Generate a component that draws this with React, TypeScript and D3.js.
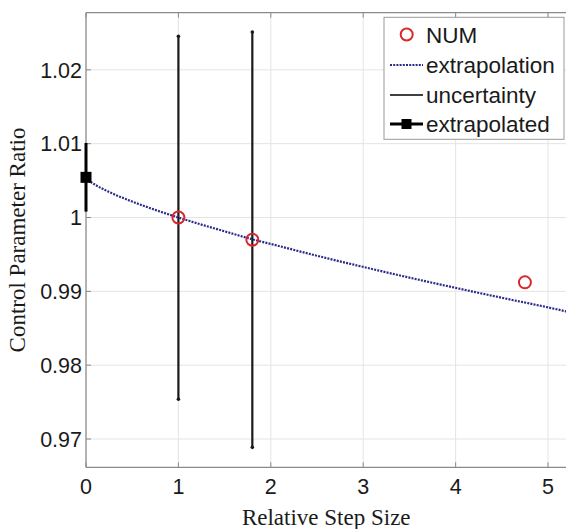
import React from "react";
import * as d3 from "d3";

const xTicks = [0, 1, 2, 3, 4, 5];
const yTicks = [0.97, 0.98, 0.99, 1.0, 1.01, 1.02];
const yTickLabels = ["0.97", "0.98", "0.99", "1", "1.01", "1.02"];

// NUM observations
const numX = [1, 1.8, 4.75];
const numY = [1.0, 0.99698, 0.99122];

// extrapolation curve
const curveX = [0, 0.02, 0.05, 0.1, 0.25, 0.5, 0.75, 1, 1.25, 1.5, 1.8, 2, 2.5, 3, 3.5, 4, 4.5, 5, 5.2];
const curveY = [1.00544, 1.00513, 1.00483, 1.00443, 1.00346, 1.00216, 1.00103, 1.0, 0.99904, 0.99813, 0.99705, 0.99642, 0.99482, 0.99331, 0.99186, 0.99047, 0.98913, 0.98783, 0.98728];

// uncertainty bars
const barX = [1, 1.8];
const barLow = [0.97538, 0.96887];
const barHigh = [1.02455, 1.02513];

// extrapolated value
const extrapX = 0;
const extrapY = 1.00544;
const extrapLow = 1.0008;
const extrapHigh = 1.0101;

const legendLabels = ["NUM", "extrapolation", "uncertainty", "extrapolated"];

export default function App() {
  const W = 566, H = 529;
  const x = d3.scaleLinear().domain([0, 5.2]).range([86, 566.5]);
  const y = d3.scaleLinear().domain([0.96617, 1.02774]).range([467.3, 12.7]);
  const [x0, x1] = x.range();
  const [yb, yt] = y.range();
  const line = d3
    .line<number>()
    .x((_, i) => x(curveX[i]))
    .y((d) => y(d))
    .curve(d3.curveMonotoneX);
  const tickFont = "'Liberation Sans', Arial, sans-serif";
  const serif = "'Liberation Serif', 'Times New Roman', serif";
  const gridColor = "#e4e4e4";
  const axisColor = "#8a8a8a";
  const blue = "#2a2a8a";
  const red = "#d8282c";
  const lx0 = 390, lx1 = 423, ltx = 426;
  const rows = [34.5, 65, 95, 124];
  return (
    <svg width={W} height={H} style={{ position: "absolute", left: 0, top: 0, background: "#fff" }}>
      {/* grid */}
      {xTicks.map((t) => (
        <line key={"gx" + t} x1={x(t)} x2={x(t)} y1={yb} y2={yt} stroke={gridColor} strokeWidth={1} />
      ))}
      {yTicks.map((t) => (
        <line key={"gy" + t} x1={x0} x2={x1} y1={y(t)} y2={y(t)} stroke={gridColor} strokeWidth={1} />
      ))}
      {/* axes box */}
      <line x1={x0} x2={x1} y1={yb} y2={yb} stroke={axisColor} strokeWidth={1.2} />
      <line x1={x0} x2={x1} y1={yt} y2={yt} stroke={axisColor} strokeWidth={1.2} />
      <line x1={x0} x2={x0} y1={yt} y2={yb} stroke={axisColor} strokeWidth={1.2} />
      {/* ticks */}
      {xTicks.map((t) => (
        <g key={"tx" + t}>
          <line x1={x(t)} x2={x(t)} y1={yb} y2={yb - 5} stroke={axisColor} />
          <line x1={x(t)} x2={x(t)} y1={yt} y2={yt + 5} stroke={axisColor} />
          <text x={x(t)} y={494} textAnchor="middle" fontFamily={tickFont} fontSize={21.5} fill="#1a1a1a">
            {t}
          </text>
        </g>
      ))}
      {yTicks.map((t, i) => (
        <g key={"ty" + t}>
          <line x1={x0} x2={x0 + 5} y1={y(t)} y2={y(t)} stroke={axisColor} />
          <text x={82} y={y(t)} dy="0.36em" textAnchor="end" fontFamily={tickFont} fontSize={21.5} fill="#1a1a1a">
            {yTickLabels[i]}
          </text>
        </g>
      ))}
      {/* uncertainty bars */}
      {barX.map((bx, i) => (
        <g key={"b" + i}>
          <line x1={x(bx)} x2={x(bx)} y1={y(barLow[i])} y2={y(barHigh[i])} stroke="#1a1a1a" strokeWidth={2.2} />
          <circle cx={x(bx)} cy={y(barLow[i])} r={1.8} fill="#1a1a1a" />
          <circle cx={x(bx)} cy={y(barHigh[i])} r={1.8} fill="#1a1a1a" />
        </g>
      ))}
      {/* extrapolation curve */}
      <path d={line(curveY) || ""} fill="none" stroke={blue} strokeWidth={2.2} strokeDasharray="2,1.2" />
      {/* extrapolated */}
      <line x1={x(extrapX)} x2={x(extrapX)} y1={y(extrapLow)} y2={y(extrapHigh)} stroke="#000" strokeWidth={3} />
      <rect x={x(extrapX) - 5.5} y={y(extrapY) - 5.5} width={11} height={11} fill="#000" />
      {/* NUM */}
      {numX.map((nx, i) => (
        <circle key={"n" + i} cx={x(nx)} cy={y(numY[i])} r={6} fill="none" stroke={red} strokeWidth={2} />
      ))}
      {/* legend */}
      <rect x={384} y={17.3} width={180} height={122} fill="#fff" stroke="#9a9a9a" strokeWidth={1} />
      <circle cx={406.7} cy={rows[0]} r={6} fill="none" stroke={red} strokeWidth={2} />
      <line x1={lx0} x2={lx1} y1={rows[1]} y2={rows[1]} stroke={blue} strokeWidth={1.8} strokeDasharray="2,1.2" />
      <line x1={lx0} x2={lx1} y1={rows[2]} y2={rows[2]} stroke="#000" strokeWidth={1.5} />
      <line x1={lx0} x2={lx1} y1={rows[3]} y2={rows[3]} stroke="#000" strokeWidth={3} />
      <rect x={406.5 - 5} y={rows[3] - 5} width={10} height={10} fill="#000" />
      {legendLabels.map((l, i) => (
        <text key={l} x={ltx} y={rows[i]} dy="0.36em" fontFamily={tickFont} fontSize={22.5} fill="#1a1a1a">
          {l}
        </text>
      ))}
      {/* axis labels */}
      <text x={(x0 + x1) / 2} y={525} textAnchor="middle" fontFamily={serif} fontSize={23} fill="#1a1a1a">
        Relative Step Size
      </text>
      <text
        transform={`translate(25,${(yt + yb) / 2}) rotate(-90)`}
        textAnchor="middle"
        fontFamily={serif}
        fontSize={23}
        fill="#1a1a1a"
      >
        Control Parameter Ratio
      </text>
    </svg>
  );
}
